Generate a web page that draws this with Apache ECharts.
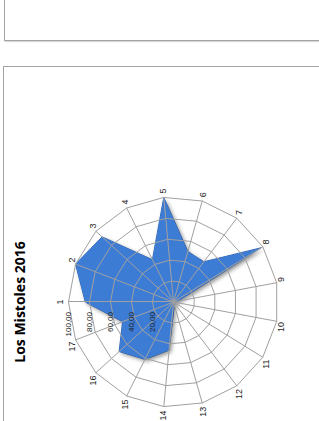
<!DOCTYPE html>
<html>
<head>
<meta charset="utf-8">
<script src="https://cdn.jsdelivr.net/npm/echarts@6/dist/echarts.min.js"></script>
<style>
  html, body { margin:0; padding:0; background:#fff; overflow:hidden; width:319px; height:421px; }
  .box { position:absolute; border:1px solid #a3a3a3; box-shadow:1px 1px 1px #d8d8d8; background:#fff; }
  #chart { position:absolute; left:4px; top:66px; width:472px; height:340px;
           transform-origin:0 0; transform:translate(0px, 472px) rotate(-90deg); }
</style>
</head>
<body>
<div class="box" style="left:4px; top:-20px; width:400px; height:59px;"></div>
<div class="box" style="left:3px; top:66px; width:400px; height:500px;"></div>
<div id="chart"></div>
<script>
(function(){
  var labels = ['1','2','3','4','5','6','7','8','9','10','11','12','13','14','15','16','17'];
  var values = [84, 100, 92, 45, 100, 50, 48, 98, 4, 2, 2, 2, 3, 46, 61, 70, 52];
  var tickMax = 100;
  var tickSplit = 5;

  // echarts lays radar axes out counter-clockwise; the reference runs clockwise
  var order = [0];
  for (var i = labels.length - 1; i > 0; i--) order.push(i);

  var indicator = order.map(function(i, k){
    var ind = {name: labels[i], min: 0, max: tickMax};
    if (k === 0) {
      ind.axisLabel = {
        show: true, showMinLabel: false, color: '#222', fontSize: 8, fontFamily: 'Liberation Sans', margin: 10,
        formatter: function(v){ return Number(v).toFixed(2).replace('.', ','); }
      };
    }
    return ind;
  });

  var c = echarts.init(document.getElementById('chart'), null, {renderer: 'svg'});
  c.setOption({
    animation: false,
    title: {
      text: 'Los Mistoles 2016', left: 'center', top: 8, padding: 0,
      textStyle: {fontFamily: 'Open Sans', fontWeight: 'bold', fontSize: 14, color: '#000'}
    },
    radar: {
      z: 3,
      center: ['50%', 169.5],
      radius: 105,
      startAngle: 90,
      shape: 'polygon',
      splitNumber: tickSplit,
      indicator: indicator,
      nameGap: 4,
      axisName: {color: '#222', fontSize: 9, fontFamily: 'Liberation Sans'},
      axisLine: {lineStyle: {color: '#a0a0a0', width: 1}},
      splitLine: {lineStyle: {color: '#a0a0a0', width: 1}},
      splitArea: {show: false},
      axisTick: {show: false},
      axisLabel: {show: false}
    },
    series: [{
      type: 'radar',
      z: 1,
      symbol: 'none',
      data: [{value: order.map(function(i){ return values[i]; })}],
      lineStyle: {color: '#2b60ad', width: 1},
      areaStyle: {color: '#3d7bd5', opacity: 1, shadowBlur: 4, shadowColor: 'rgba(0,0,0,0.45)', shadowOffsetX: -2, shadowOffsetY: 2}
    }]
  });
})();
</script>
</body>
</html>
